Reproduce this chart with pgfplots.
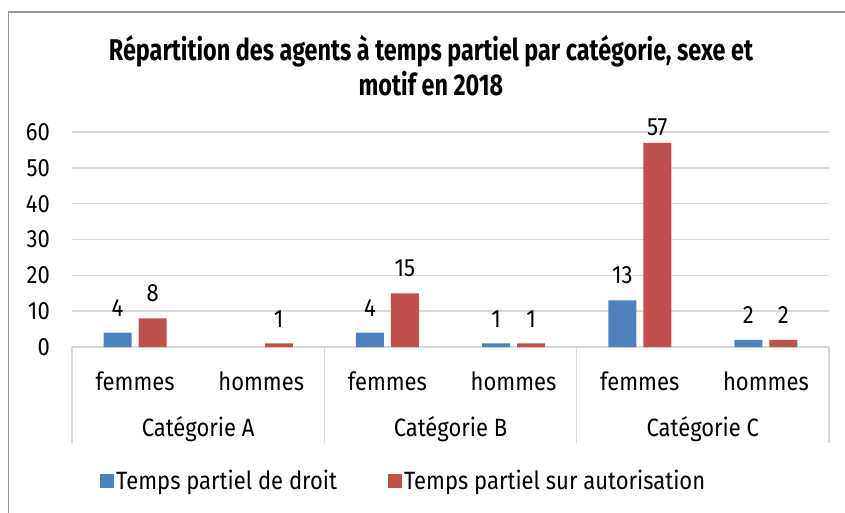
\documentclass[border=0pt]{standalone}
\usepackage{fontspec}
\setmainfont{Fira Sans}[FakeStretch=0.88]
\newfontfamily\titlefont{Fira Sans}[FakeStretch=0.78]
\usepackage{pgfplots}
\pgfplotsset{compat=1.18}
\definecolor{bleu}{RGB}{79,129,189}
\definecolor{rouge}{RGB}{192,80,77}
\definecolor{grille}{RGB}{217,217,217}
\definecolor{cadre}{RGB}{150,150,150}
\newcommand{\lbl}{\fontsize{25}{28}\selectfont}

\begin{document}
\begin{tikzpicture}[x=1pt,y=1pt]
\useasboundingbox (0,0) rectangle (845,512);
\draw[cadre, line width=1.5pt] (846,500) -- (8.5,500) -- (8.5,-2);
\node[font=\titlefont\bfseries\fontsize{30}{35}\selectfont, align=center] at (431,446)
  {Répartition des agents à temps partiel par catégorie, sexe et\\motif en 2018};
\begin{axis}[
  at={(72pt,165pt)}, anchor=south west,
  scale only axis, width=757pt, height=215pt,
  clip=false,
  ybar=7pt, bar width=28pt,
  xmin=-0.5, xmax=5.5, ymin=0, ymax=60,
  ytick={0,10,...,60},
  xtick={0,...,5},
  xticklabels={femmes,hommes,femmes,hommes,femmes,hommes},
  axis line style={draw=none},
  tick style={draw=none},
  ymajorgrids, major grid style={grille, line width=1.5pt},
  /pgf/number format/assume math mode=true,
  tick label style={font=\lbl},
  yticklabel style={anchor=east, inner sep=0pt, xshift=-22pt},
  xticklabel style={anchor=base, inner sep=0pt, yshift=-39pt},
  nodes near coords,
  visualization depends on={rawy \as \rawy},
  every node near coord/.append style={font=\lbl, anchor=south, inner sep=0pt,
    yshift={ifthenelse(\rawy>50,7,16)}, black},
  legend style={at={(0.037,-0.623)}, anchor=west, draw=none, inner sep=0pt,
    legend columns=2, font=\lbl,
    /tikz/every even column/.append style={column sep=49pt}},
]
\addplot[fill=bleu, draw=none, legend image code/.code={\fill[bleu] (0pt,-7pt) rectangle (14pt,7pt);}]
  coordinates {(0,4) (2,4) (3,1) (4,13) (5,2)};
\addplot[fill=rouge, draw=none, legend image code/.code={\fill[rouge] (0pt,-7pt) rectangle (14pt,7pt);}]
  coordinates {(0,8) (1,1) (2,15) (3,1) (4,57) (5,2)};
\legend{Temps partiel de droit, Temps partiel sur autorisation}
\draw[grille, line width=1.5pt] (axis cs:-0.5,0) -- ++(0pt,-96pt);
\draw[grille, line width=1.5pt] (axis cs:1.5,0) -- ++(0pt,-96pt);
\draw[grille, line width=1.5pt] (axis cs:3.5,0) -- ++(0pt,-96pt);
\draw[grille, line width=1.5pt] (axis cs:5.5,0) -- ++(0pt,-96pt);
\node[font=\lbl, anchor=base, yshift=-89pt] at (axis cs:0.5,0) {Catégorie A};
\node[font=\lbl, anchor=base, yshift=-89pt] at (axis cs:2.5,0) {Catégorie B};
\node[font=\lbl, anchor=base, yshift=-89pt] at (axis cs:4.5,0) {Catégorie C};
\end{axis}
\end{tikzpicture}
\end{document}
